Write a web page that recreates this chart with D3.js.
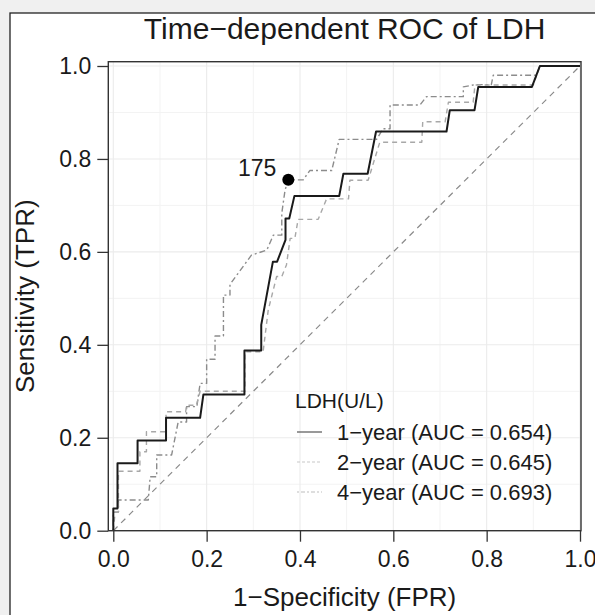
<!DOCTYPE html>
<meta charset="utf-8">

<!-- Load d3.js -->
<script src="https://d3js.org/d3.v7.min.js"></script>

<style>
  body { margin: 0; background: #f0f0f0; }
  text { font-family: "Liberation Sans", Arial, sans-serif; fill: #1a1a1a; }
</style>

<!-- Create a div where the graph will take place -->
<div id="my_dataviz"></div>

<script>

  // ROC points: [FPR, TPR]
  const roc1year = [
    [0, 0], [0, 0.048], [0.009, 0.048], [0.009, 0.145], [0.052, 0.145], [0.052, 0.194],
    [0.113, 0.194], [0.113, 0.243], [0.186, 0.243], [0.193, 0.293], [0.281, 0.293],
    [0.281, 0.388], [0.317, 0.388], [0.317, 0.443], [0.342, 0.579], [0.351, 0.579],
    [0.369, 0.626], [0.369, 0.672], [0.377, 0.672], [0.388, 0.720], [0.484, 0.720],
    [0.493, 0.768], [0.545, 0.768], [0.563, 0.859], [0.714, 0.859], [0.721, 0.905],
    [0.774, 0.905], [0.782, 0.955], [0.897, 0.955], [0.914, 1], [1, 1]
  ];
  const roc2year = [
    [0, 0], [0.004, 0.04], [0.011, 0.04], [0.011, 0.128], [0.057, 0.128], [0.057, 0.17],
    [0.071, 0.17], [0.071, 0.213], [0.113, 0.213], [0.113, 0.256], [0.155, 0.256],
    [0.157, 0.27], [0.178, 0.27], [0.186, 0.3], [0.282, 0.3], [0.282, 0.385],
    [0.321, 0.385], [0.332, 0.475], [0.35, 0.547], [0.361, 0.547], [0.371, 0.572],
    [0.379, 0.629], [0.389, 0.629], [0.396, 0.67], [0.439, 0.67], [0.457, 0.714],
    [0.504, 0.714], [0.507, 0.754], [0.546, 0.754], [0.571, 0.836], [0.661, 0.836],
    [0.663, 0.88], [0.711, 0.88], [0.718, 0.922], [0.771, 0.922], [0.775, 0.959],
    [0.9, 0.959], [0.914, 1], [1, 1]
  ];
  const roc4year = [
    [0, 0], [0, 0.04], [0.011, 0.04], [0.011, 0.066], [0.075, 0.066], [0.079, 0.116],
    [0.093, 0.116], [0.093, 0.163], [0.125, 0.163], [0.139, 0.234], [0.157, 0.234],
    [0.157, 0.267], [0.179, 0.267], [0.186, 0.317], [0.2, 0.317], [0.2, 0.369],
    [0.218, 0.369], [0.218, 0.419], [0.236, 0.419], [0.236, 0.507], [0.25, 0.507],
    [0.25, 0.53], [0.296, 0.593], [0.329, 0.604], [0.343, 0.636], [0.361, 0.636],
    [0.361, 0.683], [0.368, 0.733], [0.375, 0.755], [0.407, 0.755], [0.421, 0.775],
    [0.468, 0.775], [0.484, 0.842], [0.564, 0.842], [0.578, 0.865], [0.593, 0.865],
    [0.593, 0.916], [0.657, 0.916], [0.671, 0.934], [0.75, 0.934], [0.75, 0.955],
    [0.775, 0.96], [0.81, 0.96], [0.814, 0.98], [0.907, 0.98], [0.914, 1], [1, 1]
  ];

  const seriesNames = ["1\u2212year (AUC = 0.654)", "2\u2212year (AUC = 0.645)", "4\u2212year (AUC = 0.693)"];
  const cutoffPoint = [0.375, 0.755];
  const cutoffLabel = "175";
  const majorTicks = [0, 0.2, 0.4, 0.6, 0.8, 1.0];
  const minorTicks = [0.1, 0.3, 0.5, 0.7, 0.9];

  // line styles for each series
  const styles = [
    { stroke: "#1a1a1a", width: 2, dash: null, key: "#555" },
    { stroke: "#a8a8a8", width: 1.4, dash: "5,4", key: "#c8c8c8" },
    { stroke: "#8c8c8c", width: 1.4, dash: "2,3,6,3", key: "#bdbdbd" }
  ];

  const W = 595, H = 615;
  const panel = { left: 108.3, top: 61.7, right: 581, bottom: 530.7 };

  const svg = d3.select("#my_dataviz")
    .append("svg")
    .attr("width", W)
    .attr("height", H);

  // figure background + frame
  svg.append("rect")
    .attr("x", 10).attr("y", 13)
    .attr("width", W + 20).attr("height", H + 20)
    .attr("fill", "#fff")
    .attr("stroke", "#222")
    .attr("stroke-width", 1.3);

  const x = d3.scaleLinear().domain([0, 1]).range([113.3, 580]);
  const y = d3.scaleLinear().domain([0, 1]).range([530.7, 66]);

  // grid lines
  const grid = svg.append("g");
  minorTicks.forEach(function (t) {
    grid.append("line").attr("x1", x(t)).attr("x2", x(t)).attr("y1", panel.top).attr("y2", panel.bottom)
      .attr("stroke", "#f3f3f3").attr("stroke-width", 1);
    grid.append("line").attr("y1", y(t)).attr("y2", y(t)).attr("x1", panel.left).attr("x2", panel.right)
      .attr("stroke", "#f3f3f3").attr("stroke-width", 1);
  });
  majorTicks.forEach(function (t) {
    grid.append("line").attr("x1", x(t)).attr("x2", x(t)).attr("y1", panel.top).attr("y2", panel.bottom)
      .attr("stroke", "#ebebeb").attr("stroke-width", 1.1);
    grid.append("line").attr("y1", y(t)).attr("y2", y(t)).attr("x1", panel.left).attr("x2", panel.right)
      .attr("stroke", "#ebebeb").attr("stroke-width", 1.1);
  });

  // reference diagonal
  svg.append("line")
    .attr("x1", x(0)).attr("y1", y(0)).attr("x2", x(1)).attr("y2", y(1))
    .attr("stroke", "#8a8a8a")
    .attr("stroke-width", 1.2)
    .attr("stroke-dasharray", "6,5");

  // the three ROC curves
  const line = d3.line()
    .x(function (d) { return x(d[0]); })
    .y(function (d) { return y(d[1]); });

  [roc4year, roc2year, roc1year].forEach(function (data, j) {
    const s = styles[2 - j];
    svg.append("path")
      .datum(data)
      .attr("fill", "none")
      .attr("stroke", s.stroke)
      .attr("stroke-width", s.width)
      .attr("stroke-dasharray", s.dash)
      .attr("stroke-linejoin", "round")
      .attr("d", line);
  });

  // optimal cutoff point
  svg.append("circle")
    .attr("cx", x(cutoffPoint[0]))
    .attr("cy", y(cutoffPoint[1]))
    .attr("r", 6)
    .attr("fill", "#000");
  svg.append("text")
    .attr("x", x(cutoffPoint[0]) - 12)
    .attr("y", y(cutoffPoint[1]) - 4)
    .attr("text-anchor", "end")
    .style("font-size", "23px")
    .text(cutoffLabel);

  // panel border
  svg.append("rect")
    .attr("x", panel.left).attr("y", panel.top)
    .attr("width", panel.right - panel.left)
    .attr("height", panel.bottom - panel.top)
    .attr("fill", "none")
    .attr("stroke", "#333")
    .attr("stroke-width", 1.4);

  // axes
  const fmt = d3.format(".1f");
  svg.append("g")
    .attr("transform", `translate(0, ${panel.bottom})`)
    .call(d3.axisBottom(x).tickValues(majorTicks).tickFormat(fmt).tickSize(11).tickPadding(9))
    .call(function (g) {
      g.select(".domain").remove();
      g.selectAll(".tick line").attr("stroke", "#333").attr("stroke-width", 1.3);
      g.selectAll(".tick text").style("font-size", "23px").attr("fill", "#1a1a1a");
    });

  svg.append("g")
    .attr("transform", `translate(${panel.left}, 0)`)
    .call(d3.axisLeft(y).tickValues(majorTicks).tickFormat(fmt).tickSize(11).tickPadding(6))
    .call(function (g) {
      g.select(".domain").remove();
      g.selectAll(".tick line").attr("stroke", "#333").attr("stroke-width", 1.3);
      g.selectAll(".tick text").style("font-size", "23px").attr("fill", "#1a1a1a");
    });

  // titles
  svg.append("text")
    .attr("x", (panel.left + panel.right) / 2)
    .attr("y", 39)
    .attr("text-anchor", "middle")
    .style("font-size", "30px")
    .text("Time\u2212dependent ROC of LDH");

  svg.append("text")
    .attr("x", (panel.left + panel.right) / 2)
    .attr("y", 606)
    .attr("text-anchor", "middle")
    .style("font-size", "26px")
    .text("1\u2212Specificity (FPR)");

  svg.append("text")
    .attr("transform", `translate(34, ${(panel.top + panel.bottom) / 2}) rotate(-90)`)
    .attr("text-anchor", "middle")
    .style("font-size", "26px")
    .text("Sensitivity (TPR)");

  // legend
  const legend = svg.append("g").attr("transform", "translate(295, 0)");
  legend.append("text")
    .attr("x", 0).attr("y", 408)
    .style("font-size", "21px")
    .text("LDH(U/L)");

  seriesNames.forEach(function (name, i) {
    const yy = 440 + i * 30;
    legend.append("line")
      .attr("x1", 2).attr("x2", 27)
      .attr("y1", yy - 8).attr("y2", yy - 8)
      .attr("stroke", styles[i].key)
      .attr("stroke-width", 1.2)
      .attr("stroke-dasharray", i === 0 ? null : (i === 1 ? "3,2" : "2,2,4,2"));
    legend.append("text")
      .attr("x", 42).attr("y", yy)
      .style("font-size", "22px")
      .text(name);
  });

</script>
